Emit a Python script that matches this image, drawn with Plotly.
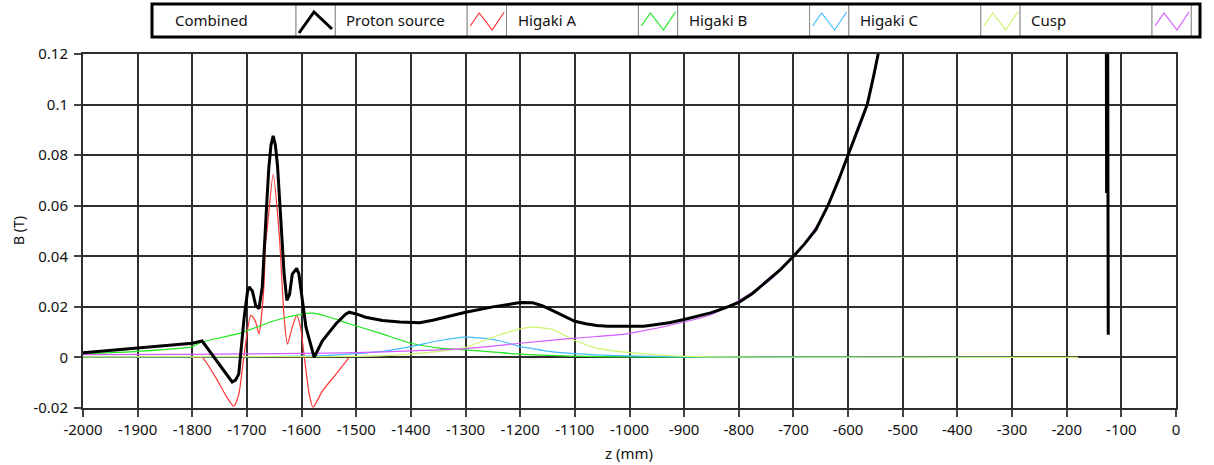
import plotly.graph_objects as go

# ---------------- data ----------------
combined_z = [-2000, -1900, -1800, -1782, -1755, -1727, -1721, -1715, -1705, -1699, -1696, -1690, -1684, -1678,
              -1672, -1668, -1664, -1660, -1656, -1652, -1648, -1644, -1638, -1632, -1627, -1622, -1617, -1612,
              -1609, -1605, -1602, -1592, -1577, -1562, -1537, -1520, -1513, -1500, -1483, -1452, -1420, -1400,
              -1384, -1360, -1340, -1300, -1250, -1220, -1200, -1177, -1160, -1150, -1125, -1100, -1080, -1060,
              -1040, -1017, -990, -974, -950, -925, -900, -875, -850, -825, -800, -775, -749, -725, -700, -680,
              -659, -637, -617, -600, -581, -565, -553, -545, -530, -500, -400, -200, -128, -127, -125, -124]
combined_b = [0.0018, 0.0036, 0.0056, 0.0065, -0.0015, -0.0097, -0.0090, -0.0066, 0.016, 0.026, 0.0279, 0.0262,
              0.0206, 0.0193, 0.0279, 0.042, 0.060, 0.075, 0.084, 0.0876, 0.084, 0.0757, 0.0518, 0.033, 0.0226,
              0.0250, 0.033, 0.0345, 0.0352, 0.033, 0.0279, 0.012, 0.0, 0.0066, 0.0133, 0.0170, 0.0179, 0.0172,
              0.0159, 0.0146, 0.0140, 0.0137, 0.0137, 0.0147, 0.0158, 0.0179, 0.0200, 0.0211, 0.0217, 0.0216,
              0.0205, 0.0195, 0.0168, 0.0143, 0.0133, 0.0126, 0.0123, 0.0122, 0.0122, 0.0123, 0.0130, 0.0138,
              0.0150, 0.0162, 0.0177, 0.0196, 0.0218, 0.0253, 0.0300, 0.0345, 0.0400, 0.0448, 0.0505, 0.0600,
              0.0704, 0.0800, 0.0903, 0.1000, 0.1116, 0.1200, 0.1400, 0.2000, 0.3000, 0.3000, 0.2000, 0.0650,
              0.1300, 0.0090]

proton_z = [-1800, -1782, -1757, -1736, -1724, -1715, -1705, -1693, -1685, -1678, -1669, -1666, -1663,
            -1652, -1641, -1632, -1626, -1617, -1609, -1602, -1595, -1586, -1579, -1562, -1537, -1513]
proton_b = [0.0, 0.0, -0.008, -0.016, -0.0193, -0.0146, 0.0013, 0.0166, 0.0146, 0.0093, 0.0279, 0.045, 0.0505,
            0.0724, 0.049, 0.016, 0.0053, 0.012, 0.0166, 0.012, 0.0, -0.0146, -0.0197, -0.0133, -0.0066, 0.0]

higaki_a_z = [-2000, -1900, -1800, -1782, -1714, -1650, -1602, -1580, -1550, -1513, -1457, -1400, -1347,
              -1300, -1207, -1110, -1000, -800, -578]
higaki_a_b = [0.0014, 0.0024, 0.0043, 0.0061, 0.0095, 0.0145, 0.0170, 0.0175, 0.0160, 0.0133, 0.0096, 0.0056, 0.0037,
              0.0030, 0.0014, 0.0005, 0.0002, 0.0001, 0.0]

higaki_b_z = [-2000, -1700, -1600, -1550, -1500, -1457, -1400, -1347, -1300, -1274, -1238, -1200, -1177,
              -1152, -1100, -1025, -900, -700, -300]
higaki_b_b = [0.0002, 0.0003, 0.0005, 0.0008, 0.0015, 0.0023, 0.0043, 0.0067, 0.0080, 0.0077, 0.0066, 0.0043, 0.0035,
              0.0025, 0.0015, 0.0007, 0.0002, 0.0, 0.0]

higaki_c_z = [-2000, -1600, -1457, -1353, -1300, -1250, -1200, -1177, -1140, -1100, -1060, -1017, -982,
              -927, -850, -179]
higaki_c_b = [0.0002, 0.0003, 0.0006, 0.0023, 0.0040, 0.0080, 0.0113, 0.0120, 0.0110, 0.0067, 0.0037, 0.0023, 0.0016,
              0.0007, 0.0002, 0.0]

cusp_z = [-2000, -1800, -1700, -1600, -1500, -1400, -1300, -1200, -1100, -1017, -994, -900, -850, -810,
          -749, -700, -650, -600, -565, -545, -530]
cusp_b = [0.0011, 0.0012, 0.0014, 0.0016, 0.0019, 0.0026, 0.0035, 0.0056, 0.0076, 0.0090, 0.0097, 0.0140, 0.0170, 0.0212,
          0.0295, 0.0398, 0.0545, 0.0795, 0.0995, 0.1195, 0.1400]

x_tick_vals = list(range(-2000, 1, 100))
x_tick_text = ["-2000", "-1900", "-1800", "-1700", "-1600", "-1500", "-1400", "-1300", "-1200", "-1100",
               "-1000", "-900", "-800", "-700", "-600", "-500", "-400", "-300", "-200", "-100", "0"]
y_tick_vals = [-0.02, 0, 0.02, 0.04, 0.06, 0.08, 0.1, 0.12]
y_tick_text = ["-0.02", "0", "0.02", "0.04", "0.06", "0.08", "0.1", "0.12"]

legend_names = ["Combined", "Proton source", "Higaki A", "Higaki B", "Higaki C", "Cusp"]

# ---------------- styling ----------------
W, H = 1214, 465
ML, MR, MT, MB = 83, 38, 54, 57
PW, PH = W - ML - MR, H - MT - MB
FONT = "Noto Sans"
TXT = "#111111"
GRID = "#2e2e2e"

colors = {"Combined": "#000000", "Proton source": "#ff3434", "Higaki A": "#1fe61f",
          "Higaki B": "#45bdff", "Higaki C": "#cdf56e", "Cusp": "#d45cff"}


def px(x):
    return (x - ML) / PW


def py(y):
    return (H - MB - y) / PH


fig = go.Figure()
series = [("Proton source", proton_z, proton_b, 1.2),
          ("Higaki A", higaki_a_z, higaki_a_b, 1.2),
          ("Higaki B", higaki_b_z, higaki_b_b, 1.2),
          ("Higaki C", higaki_c_z, higaki_c_b, 1.2),
          ("Cusp", cusp_z, cusp_b, 1.2)]
for name, zs, bs, w in series:
    fig.add_trace(go.Scatter(x=zs, y=bs, mode="lines", name=name, showlegend=False,
                             line=dict(color=colors[name], width=w, shape="spline", smoothing=0.6)))
fig.add_trace(go.Scatter(x=combined_z, y=combined_b, mode="lines", name="Combined", showlegend=False,
                         line=dict(color=colors["Combined"], width=3)))

# ---------------- custom LabVIEW-like legend ----------------
shapes = []
annotations = []
top, bot = 4, 37
left0, right0 = 152, 1200
first_cell_end = 296
pitch = 171.2
icon_w = 39.3
cells = [(left0, first_cell_end)]
for k in range(6):
    ix = first_cell_end + pitch * k
    cells.append((ix, ix + icon_w))
    nxt = first_cell_end + pitch * (k + 1) if k < 5 else right0
    cells.append((ix + icon_w, nxt))
for (a, b) in cells:
    shapes.append(dict(type="rect", xref="paper", yref="paper", x0=px(a), x1=px(b), y0=py(bot), y1=py(top),
                       line=dict(color="#8a8a8a", width=1), fillcolor="white", layer="above"))
shapes.append(dict(type="rect", xref="paper", yref="paper", x0=px(left0), x1=px(right0), y0=py(bot), y1=py(top),
                   line=dict(color="#000000", width=3), fillcolor="rgba(0,0,0,0)", layer="above"))

text_x = [173] + [first_cell_end + pitch * k + icon_w + 9 for k in range(5)]
for name, tx in zip(legend_names, text_x):
    annotations.append(dict(text=name, x=px(tx), y=py(20.5), xref="paper", yref="paper", xanchor="left",
                            yanchor="middle", showarrow=False, font=dict(family=FONT, size=15, color=TXT)))
for k, name in enumerate(legend_names):
    ix = first_cell_end + pitch * k
    if k == 0:
        pts = [(ix + 3, 33), (ix + 18, 12), (ix + 36, 29)]
        w = 3
    else:
        pts = [(ix + 3, 26), (ix + 12, 13), (ix + 25, 30), (ix + 37, 12)]
        w = 1.2
    path = "M " + " L ".join(f"{px(a):.5f},{py(b):.5f}" for a, b in pts)
    shapes.append(dict(type="path", xref="paper", yref="paper", path=path,
                       line=dict(color=colors[name], width=w), layer="above"))

annotations.append(dict(text="z (mm)", x=px(629), y=py(453), xref="paper", yref="paper", xanchor="center",
                        yanchor="middle", showarrow=False, font=dict(family=FONT, size=15, color=TXT)))
annotations.append(dict(text="B (T)", x=px(18), y=py(231), xref="paper", yref="paper", xanchor="center",
                        yanchor="middle", showarrow=False, textangle=-90,
                        font=dict(family=FONT, size=14, color=TXT)))

fig.update_layout(
    width=W, height=H,
    margin=dict(l=ML, r=MR, t=MT, b=MB, pad=0),
    paper_bgcolor="white", plot_bgcolor="white",
    shapes=shapes, annotations=annotations,
    showlegend=False,
    font=dict(family=FONT, size=15, color=TXT),
)
fig.update_xaxes(range=[-2000, 0], tickvals=x_tick_vals, ticktext=x_tick_text,
                 showgrid=True, gridcolor=GRID, gridwidth=2, zeroline=False,
                 showline=True, linecolor=GRID, linewidth=2, mirror=True,
                 ticks="outside", ticklen=7, tickwidth=2, tickcolor="#444",
                 tickfont=dict(family=FONT, size=15, color=TXT))
fig.update_yaxes(range=[-0.02, 0.12], tickvals=y_tick_vals, ticktext=y_tick_text,
                 showgrid=True, gridcolor=GRID, gridwidth=2, zeroline=False,
                 showline=True, linecolor=GRID, linewidth=2, mirror=True,
                 ticks="outside", ticklen=7, tickwidth=2, tickcolor="#444",
                 ticklabelstandoff=3,
                 tickfont=dict(family=FONT, size=15, color=TXT))

fig.write_html("out.html")
